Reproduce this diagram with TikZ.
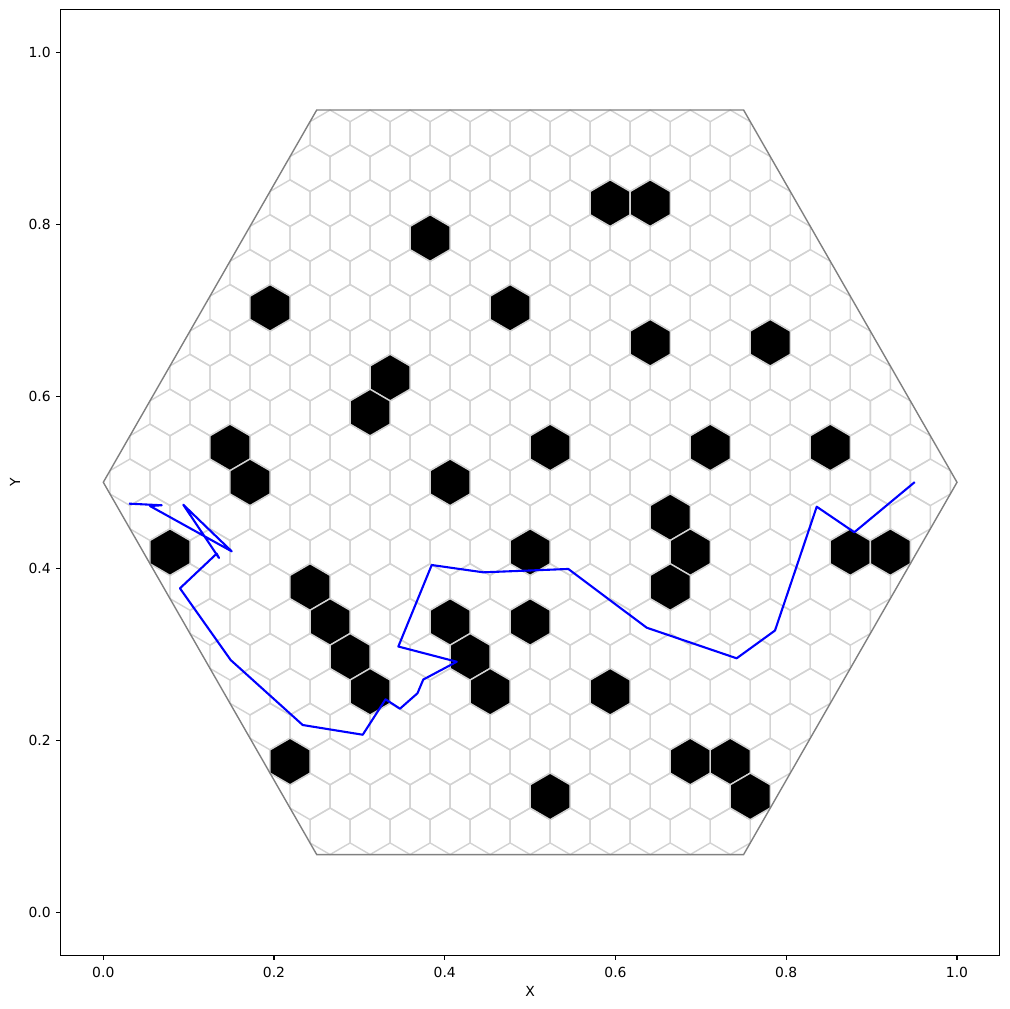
\documentclass[tikz,border=0pt]{standalone}
\usepackage{fontspec}
\setmainfont{DejaVu Sans}
\definecolor{hexgray}{HTML}{D3D3D3}
\definecolor{hexoutline}{HTML}{808080}
\definecolor{pathblue}{HTML}{0000FF}
\tikzset{
  hexedge/.style={draw=hexgray, line width=1.4pt, line join=miter},
  blackhex/.style={draw=hexgray, fill=black, line width=1.4pt},
  boardedge/.style={draw=hexoutline, line width=1.4pt, line join=miter},
  walkpath/.style={draw=pathblue, line width=2.1pt, line join=round, line cap=rect},
  frameline/.style={draw=black, line width=1.1pt},
  tickline/.style={draw=black, line width=1.1pt},
  ticklabel/.style={inner sep=0pt, font=\fontsize{13.9pt}{16pt}\selectfont},
}
\newcommand{\hexat}[3]{% style, a, j
  \pgfmathsetmacro\hcx{0.5+(#2)*0.0234375}
  \pgfmathsetmacro\hcy{0.5+(#3)*0.0405949}
  \path[#1] (\hcx,\hcy) ++(0.0234375,0.0135316) -- ++(-0.0234375,0.0135316) -- ++(-0.0234375,-0.0135316) -- ++(0,-0.0270633) -- ++(0.0234375,-0.0135316) -- ++(0.0234375,0.0135316) -- cycle;
}
\begin{document}
\begin{tikzpicture}[x=853.7pt,y=859.8pt]
\useasboundingbox[fill=white] (-0.12100,-0.11258) rectangle (1.06091,1.06095);
% hex grid
\foreach \j in {-10,...,10}{
  \pgfmathtruncatemacro\m{20-abs(\j)}
  \foreach \k in {0,...,\m}{
    \pgfmathtruncatemacro\aa{-\m+2*\k}
    \hexat{hexedge}{\aa}{\j}
  }
}
% black cells
\foreach \a/\j in {4/8,6/8,-5/7,-13/5,-1/5,6/4,12/4,-7/3,-8/2,-15/1,1/1,9/1,15/1,-14/0,-4/0,7/-1,-18/-2,8/-2,0/-2,16/-2,18/-2,-11/-3,7/-3,-10/-4,-4/-4,0/-4,-9/-5,-3/-5,-8/-6,-2/-6,4/-6,-12/-8,8/-8,10/-8,11/-9,1/-9}{
  \hexat{blackhex}{\a}{\j}
}
% board outline
\coordinate (b1) at (0,0.5);
\coordinate (b2) at (0.25,0.933013);
\coordinate (b3) at (0.75,0.933013);
\coordinate (b4) at (1,0.5);
\coordinate (b5) at (0.75,0.066987);
\coordinate (b6) at (0.25,0.066987);
\draw[boardedge] (b1) -- (b2) -- (b3) -- (b4) -- (b5) -- (b6) -- cycle;
% path
\draw[walkpath] (0.9496,0.4995) -- (0.8797,0.4419) -- (0.8357,0.4716) -- (0.7868,0.3276)
 -- (0.7419,0.2953) -- (0.6365,0.3309) -- (0.5447,0.3992) -- (0.4451,0.3953)
 -- (0.3847,0.4038) -- (0.3456,0.3090) -- (0.4140,0.2913) -- (0.3748,0.2706)
 -- (0.3680,0.2546) -- (0.3475,0.2367) -- (0.3306,0.2476) -- (0.3039,0.2064)
 -- (0.2336,0.2177) -- (0.1492,0.2933) -- (0.0898,0.3767) -- (0.1328,0.4170)
 -- (0.1355,0.4120) -- (0.0937,0.4739) -- (0.1504,0.4197) -- (0.0547,0.4724)
 -- (0.0684,0.4733) -- (0.0313,0.4751);
% axes frame
\draw[frameline] (-0.05,-0.05) rectangle (1.05,1.05);
\foreach \t/\lab in {0/0.0,0.2/0.2,0.4/0.4,0.6/0.6,0.8/0.8,1/1.0}{
  \draw[tickline] (\t,-0.05) -- ++(0,-4.86pt);
  \node[ticklabel] (xt\lab) at (\t,-0.0701) {\lab};
  \draw[tickline] (-0.05,\t) -- ++(-4.86pt,0);
  \node[ticklabel, anchor=east] (yt\lab) at (-0.0614,\t) {\lab};
}
\node[ticklabel] (xlabel) at (0.5,-0.0925) {X};
\node[ticklabel, rotate=90] (ylabel) at (-0.1034,0.5) {Y};
\end{tikzpicture}
\end{document}
